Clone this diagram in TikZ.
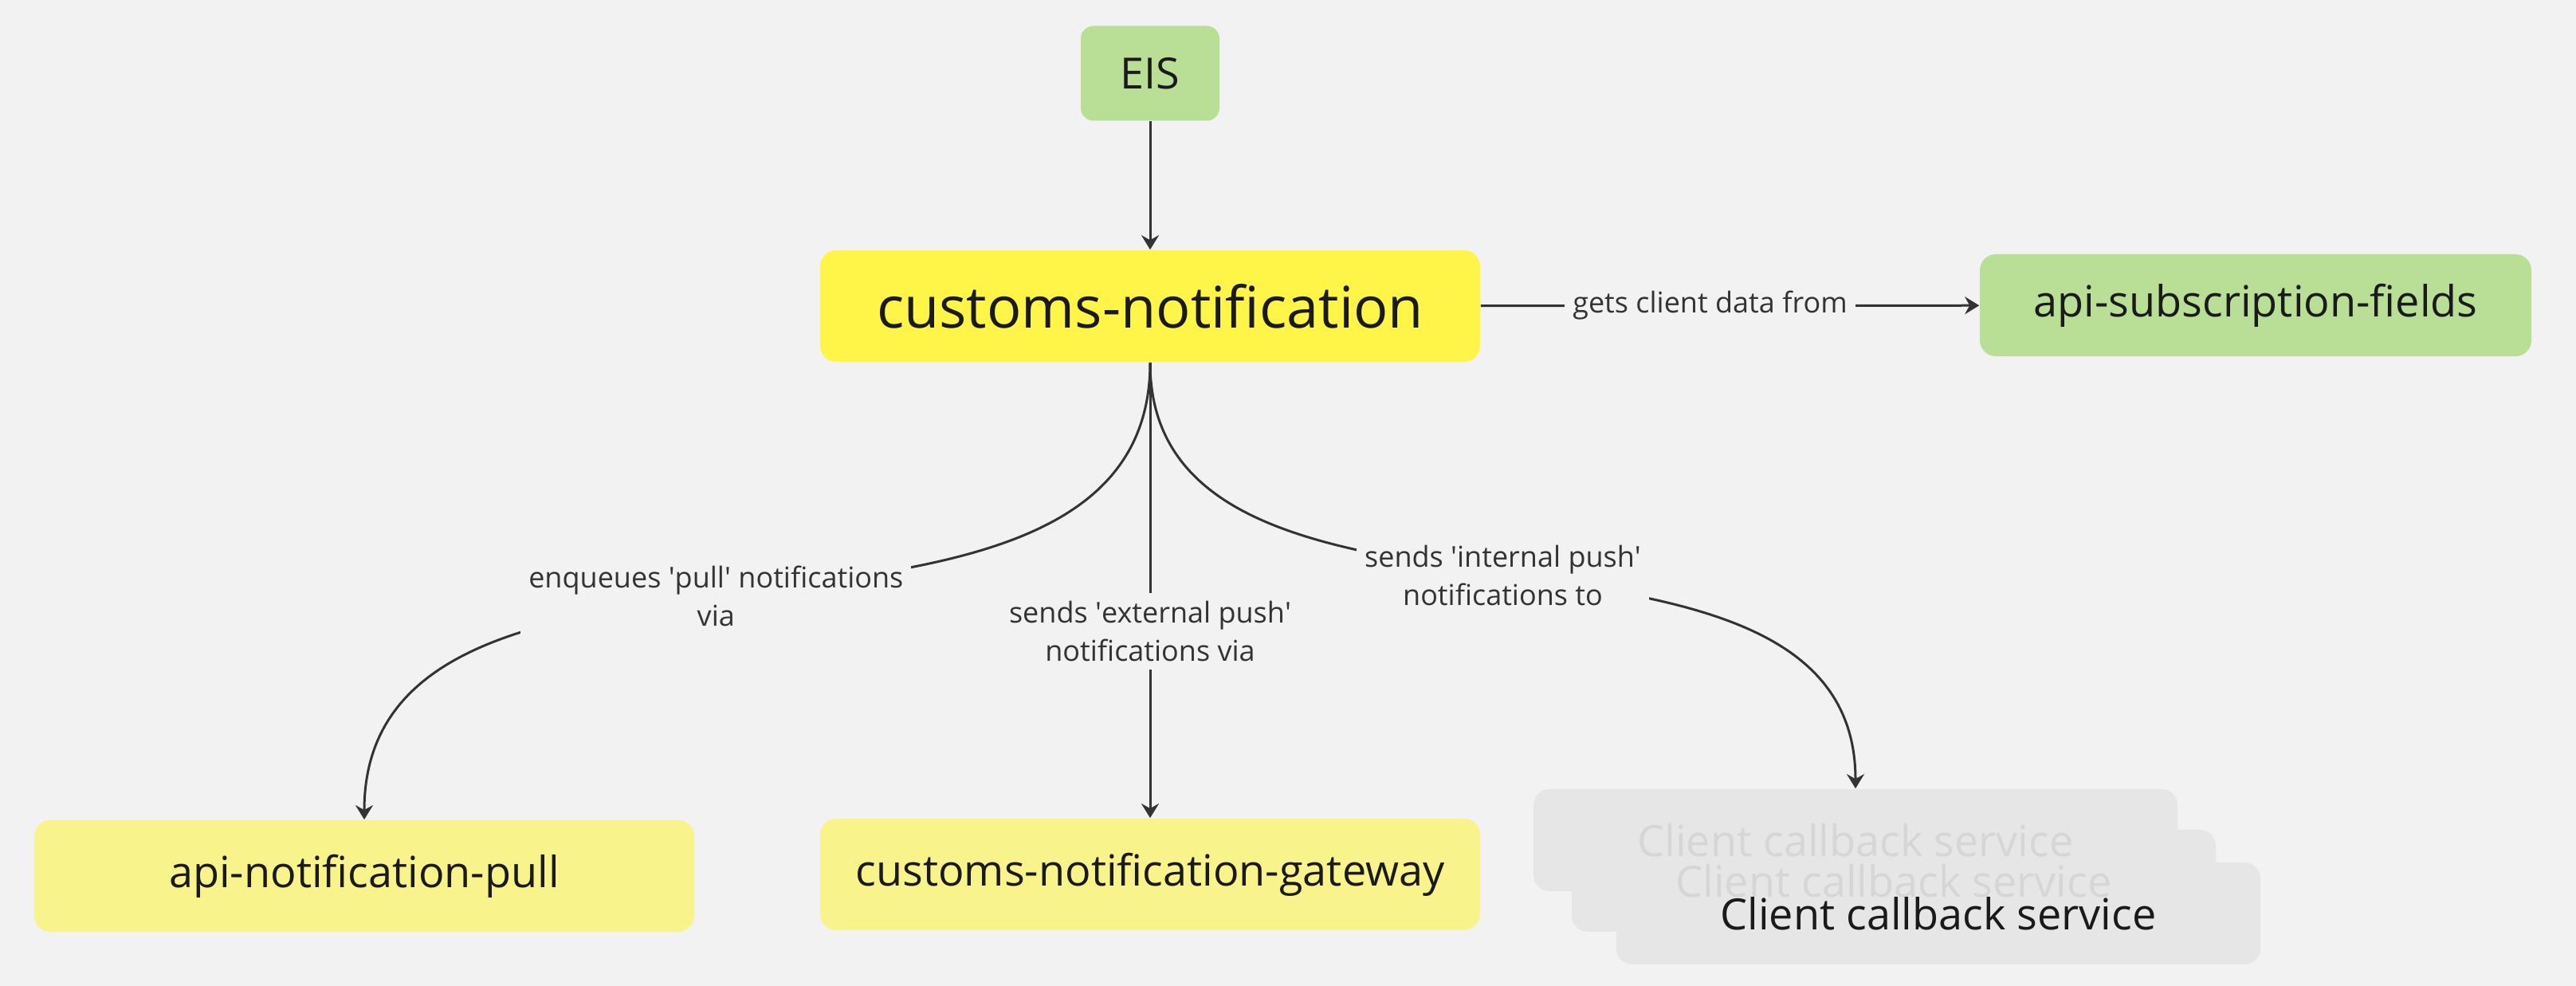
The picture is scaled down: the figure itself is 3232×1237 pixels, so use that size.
\documentclass[tikz,border=0pt]{standalone}
\usepackage{fontspec}
\setmainfont{Open Sans}
\usetikzlibrary{arrows.meta}
\definecolor{paper}{RGB}{242,242,242}
\definecolor{leaf}{RGB}{184,223,149}
\definecolor{lemon}{RGB}{255,244,72}
\definecolor{cream}{RGB}{249,243,139}
\definecolor{mist}{RGB}{230,230,230}
\definecolor{faded}{RGB}{214,214,214}
\definecolor{ink}{RGB}{26,26,26}
\definecolor{wire}{RGB}{51,51,51}
\newcommand{\sq}{\textquotesingle}
\begin{document}
\begin{tikzpicture}[x=0.25pt,y=-0.25pt]
\tikzstyle{box}=[rounded corners=5pt, inner sep=0pt, text=ink, font=\fontsize{13.5pt}{16pt}\selectfont]
\tikzstyle{service}=[box, fill=leaf]
\tikzstyle{core}=[box, fill=lemon, minimum width=207pt, minimum height=35pt, font=\fontsize{18pt}{21pt}\selectfont]
\tikzstyle{queue}=[box, fill=cream, minimum width=207pt, minimum height=35pt]
\tikzstyle{client}=[box, fill=mist, minimum width=202pt, minimum height=32pt]
\tikzstyle{link}=[draw=wire, line width=0.75pt, -{Stealth[length=4.5pt,width=5.5pt,inset=1.5pt]}]
\tikzstyle{lbl}=[fill=paper, text=wire, align=center, inner sep=2.5pt, font=\fontsize{9pt}{12pt}\selectfont]

\fill[paper] (0,0) rectangle (3232,1237);
\useasboundingbox (0,0) rectangle (3232,1237);

\node[service, minimum width=43.5pt, minimum height=29.75pt, rounded corners=4pt] (eis) at (1443,92) {EIS};
\node[core] (cn) at (1443,384) {customs-notification};
\node[service, minimum width=173pt, minimum height=32pt] (asf) at (2830,383) {api-subscription-fields};
\node[queue] (anp) at (457,1099) {api-notification-pull};
\node[queue] (cng) at (1443,1097) {customs-notification-gateway};

\foreach \i/\x/\y in {1/2328/1054, 2/2376/1105, 3/2432/1146} {
\node[client] (cb\i) at (\x,\y) {};
}
\foreach \i/\c in {1/faded, 2/faded, 3/ink} {
\node[box, text=\c] (cbt\i) at (cb\i) {Client callback service};
}

\draw[link] (eis) -- (cn);
\draw[link] (cn) -- node[pos=0.46, lbl] {gets client data from} (asf);
\draw[link] (cn.south) .. controls +(0,446) and +(0,-446) .. node[pos=0.535, lbl] {enqueues \sq pull\sq{} notifications\\via} (anp.north);
\draw[link] (cn) -- node[pos=0.59, lbl] {sends \sq external push\sq\\notifications via} (cng);
\draw[link] (cn.south) .. controls +(0,404) and +(0,-404) .. node[pos=0.5, lbl] {sends \sq internal push\sq\\notifications to} (cb1.north);

    \end{tikzpicture}
\end{document}
